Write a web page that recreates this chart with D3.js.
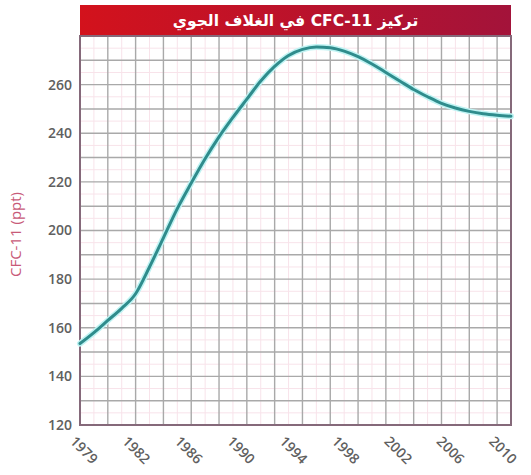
<!DOCTYPE html>
<html>
<head>
<meta charset="utf-8">
<script src="https://cdn.jsdelivr.net/npm/d3@7"></script>
<style>
  body { margin: 0; background: #fff; }
  text { font-family: "Open Sans", "DejaVu Sans", sans-serif; }
</style>
</head>
<body>
<div id="chart"></div>
<script>
const years = [1979, 1980, 1981, 1982, 1983, 1984, 1985, 1986, 1987, 1988, 1989, 1990,
  1991, 1992, 1993, 1994, 1995, 1996, 1997, 1998, 1999, 2000, 2001, 2002, 2003,
  2004, 2005, 2006, 2007, 2008, 2009, 2010];
const cfc11 = [153.5, 158, 163, 168, 174, 185, 197, 209, 219.5, 229.5, 238.5, 246.5,
  254, 261.5, 267.5, 272, 274.5, 275.5, 275.2, 273.8, 271.5, 268.5, 265, 261.5, 258,
  255, 252.3, 250.4, 249, 248, 247.4, 247];
const yearLabels = ['1979', '1982', '1986', '1990', '1994', '1998', '2002', '2006', '2010'];
const yTicks = [120, 140, 160, 180, 200, 220, 240, 260];
const title = 'تركيز CFC-11 في الغلاف الجوي';
const yTitle = 'CFC-11 (ppt)';

const width = 531;
const height = 475;
const margin = { top: 36, right: 20, bottom: 50, left: 80 };
const headerTop = 5;

const svg = d3.select('#chart').
append('svg').
attr('width', width).
attr('height', height);

const x = d3.scaleLinear().
domain([1979, 2010]).
range([margin.left, width - margin.right]);

const y = d3.scaleLinear().
domain([120, 280]).
range([height - margin.bottom, margin.top]);

const xLabel = d3.scalePoint().
domain(yearLabels).
range([margin.left + 4, width - margin.right - 8]);

// header bar
const grad = svg.append('defs').append('linearGradient').
attr('id', 'hdr').
attr('x1', '0%').attr('x2', '100%');
grad.append('stop').attr('offset', '0%').attr('stop-color', '#d3121c');
grad.append('stop').attr('offset', '100%').attr('stop-color', '#a3133a');

svg.append('rect').
attr('x', margin.left).
attr('y', headerTop).
attr('width', width - margin.right - margin.left).
attr('height', margin.top - headerTop).
attr('fill', 'url(#hdr)');

svg.append('text').
attr('x', (margin.left + width - margin.right) / 2).
attr('y', (headerTop + margin.top) / 2 + 5).
attr('text-anchor', 'middle').
attr('direction', 'rtl').
attr('fill', '#fff').
style('font-family', '"DejaVu Sans", sans-serif').
style('font-weight', 'bold').
style('font-size', '15.5px').
text(title);

// grid: faint pink minor lines
const grid = svg.append('g');
grid.selectAll('line.minor-x').
data(d3.range(1980, 2010, 2)).
enter().
append('line').
attr('x1', d => x(d)).
attr('x2', d => x(d)).
attr('y1', margin.top).
attr('y2', height - margin.bottom).
attr('stroke', '#f8e3ea').
attr('stroke-width', 1);

grid.selectAll('line.minor-y').
data(d3.range(125, 280, 10)).
enter().
append('line').
attr('x1', margin.left).
attr('x2', width - margin.right).
attr('y1', d => y(d)).
attr('y2', d => y(d)).
attr('stroke', '#f8e3ea').
attr('stroke-width', 1);

// grid: gray major lines
grid.selectAll('line.major-x').
data(d3.range(1981, 2010, 2)).
enter().
append('line').
attr('x1', d => x(d)).
attr('x2', d => x(d)).
attr('y1', margin.top).
attr('y2', height - margin.bottom).
attr('stroke', '#a9a9a9').
attr('stroke-width', 1.4);

grid.selectAll('line.major-y').
data(d3.range(130, 280, 10)).
enter().
append('line').
attr('x1', margin.left).
attr('x2', width - margin.right).
attr('y1', d => y(d)).
attr('y2', d => y(d)).
attr('stroke', '#a9a9a9').
attr('stroke-width', 1.4);

// plot border
svg.append('rect').
attr('x', margin.left).
attr('y', margin.top).
attr('width', width - margin.right - margin.left).
attr('height', height - margin.bottom - margin.top).
attr('fill', 'none').
attr('stroke', '#85697a').
attr('stroke-width', 2);

// y tick labels
const yAxis = d3.axisLeft(y).
tickValues(yTicks).
tickSize(0).
tickPadding(8);
const yg = svg.append('g').
attr('transform', 'translate(' + margin.left + ',0)').
call(yAxis);
yg.select('.domain').remove();
yg.selectAll('text').
attr('fill', '#606060').
style('font-size', '14px').
style('font-weight', '600');

svg.append('text').
attr('transform', 'translate(21,' + (y(200) + 4) + ') rotate(-90)').
attr('text-anchor', 'middle').
attr('fill', '#c85a78').
style('font-size', '15px').
text(yTitle);

// x tick labels, rotated
svg.append('g').
selectAll('text').
data(yearLabels).
enter().
append('text').
attr('transform', d => 'translate(' + xLabel(d) + ',' + (height - margin.bottom + 25) + ') rotate(45)').
attr('text-anchor', 'middle').
attr('dy', '0.35em').
attr('fill', '#606060').
style('font-size', '14px').
style('font-weight', '600').
text(d => d);

// curve
const points = years.map((d, i) => [d, cfc11[i]]);
const line = d3.line().
x(d => x(d[0])).
y(d => y(d[1])).
curve(d3.curveMonotoneX);

svg.append('path').
datum(points).
attr('d', line).
attr('fill', 'none').
attr('stroke', '#bff3f3').
attr('stroke-width', 6).
attr('stroke-linecap', 'round');

svg.append('path').
datum(points).
attr('d', line).
attr('fill', 'none').
attr('stroke', '#2f8c8c').
attr('stroke-width', 3).
attr('stroke-linecap', 'round');
</script>
</body>
</html>
